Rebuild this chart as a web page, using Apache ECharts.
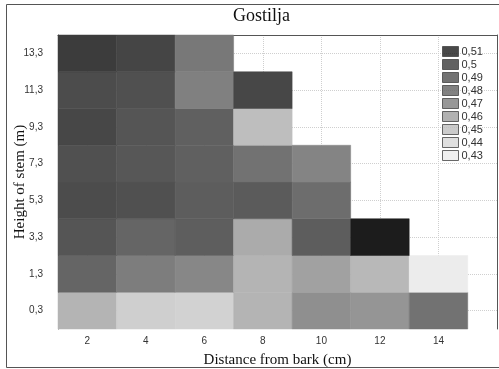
<!DOCTYPE html>
<html>
<head>
<meta charset="utf-8">
<script src="https://cdn.jsdelivr.net/npm/echarts@6/dist/echarts.min.js"></script>
<style>
    html, body { margin: 0; padding: 0; background: #fff; }
    #chart { width: 499px; height: 369px; }
</style>
</head>
<body>
<div id="chart"></div>
<script>
// distance from bark (cm), x positions of the columns
const distances = [2, 4, 6, 8, 10, 12, 14];
// height of stem (m), bottom to top
const heights = ['0,3', '1,3', '3,3', '5,3', '7,3', '9,3', '11,3', '13,3'];

// one row per height, one value per distance (null = no measurement)
const row03 = [0.453, 0.443, 0.442, 0.453, 0.4645, 0.4627, 0.474];
const row13 = [0.479, 0.470, 0.467, 0.453, 0.459, 0.452, 0.430];
const row33 = [0.487, 0.479, 0.482, 0.456, 0.483, 0.512, null];
const row53 = [0.492, 0.490, 0.483, 0.484, 0.476, null, null];
const row73 = [0.490, 0.486, 0.481, 0.474, 0.468, null, null];
const row93 = [0.494, 0.487, 0.481, 0.450, null, null, null];
const row113 = [0.492, 0.490, 0.469, 0.494, null, null, null];
const row133 = [0.499, 0.495, 0.472, null, null, null, null];
const rows = [row03, row13, row33, row53, row73, row93, row113, row133];

// legend levels and their grey shades (low to high)
const levels = [0.43, 0.44, 0.45, 0.46, 0.47, 0.48, 0.49, 0.5, 0.51];
const shades = ['#ececec', '#d7d7d7', '#bebebe', '#9e9e9e', '#7d7d7d', '#626262', '#505050', '#3a3a3a', '#1c1c1c'];

const topTicks = ['', '', '', '', '', '', '', '', '', ''];

const serif = '"Liberation Serif", "DejaVu Serif", serif';
const sans = '"Liberation Sans", Arial, sans-serif';

let cells = [];
rows.forEach((row, i) => {
    row.forEach((v, j) => {
        if (v !== null) cells.push([distances[j], i, v]);
    });
});

const fmt = (v) => String(v).replace('.', ',');

// dummy series only to feed the legend
let legendSeries = levels
    .map((lv, k) => ({
        name: fmt(lv),
        type: 'scatter',
        data: [],
        itemStyle: { color: shades[k], borderColor: '#444', borderWidth: 1 },
    }))
    .reverse();

let chart = echarts.init(document.getElementById('chart'));
let option = {
    animation: false,
    backgroundColor: '#fff',
    title: {
        text: 'Gostilja',
        left: 228,
        top: 2,
        textStyle: { fontFamily: serif, fontSize: 18, fontWeight: 'normal', color: '#111' },
    },
    grid: { left: 58, right: 2, top: 35, bottom: 40, outerBoundsMode: 'none', containLabel: false },
    legend: {
        orient: 'vertical',
        left: 442,
        top: 46,
        padding: 0,
        icon: 'rect',
        itemWidth: 16,
        itemHeight: 10,
        itemGap: 2,
        data: legendSeries.map((s) => s.name),
        textStyle: { fontFamily: sans, fontSize: 11, lineHeight: 10, color: '#333', padding: [0, 0, 0, -2] },
        itemStyle: { borderColor: '#444', borderWidth: 1 },
    },
    visualMap: {
        type: 'continuous',
        show: false,
        seriesIndex: 0,
        dimension: 2,
        min: 0.43,
        max: 0.51,
        inRange: { color: shades },
    },
    xAxis: [
        {
            type: 'value',
            min: 1,
            max: 16,
            interval: 1,
            name: 'Distance from bark (cm)',
            nameLocation: 'middle',
            nameGap: 24,
            nameTextStyle: { fontFamily: serif, fontSize: 15, color: '#111' },
            axisLine: { lineStyle: { color: '#555' } },
            axisTick: { inside: true, length: 3, customValues: distances, lineStyle: { color: '#333' } },
            axisLabel: {
                fontFamily: sans,
                fontSize: 10,
                color: '#333',
                margin: 7,
                customValues: distances,
                formatter: (v) => (v % 2 === 0 && v < 16 ? String(v) : ''),
            },
            splitLine: { show: true, lineStyle: { color: '#cfcfcf', type: 'dotted' } },
        },
        {
            type: 'category',
            position: 'top',
            data: topTicks,
            axisLine: { lineStyle: { color: '#555' } },
            axisTick: { inside: true, length: 3, alignWithLabel: true, lineStyle: { color: '#333' } },
            axisLabel: { show: false },
            splitLine: { show: false },
        },
    ],
    yAxis: [
        {
            type: 'category',
            data: heights,
            name: 'Height of stem (m)',
            nameLocation: 'middle',
            nameGap: 30,
            nameMoveOverlap: false,
            nameTextStyle: { fontFamily: serif, fontSize: 15, color: '#111' },
            axisLine: { lineStyle: { color: '#555' } },
            axisTick: { inside: true, length: 3, alignWithLabel: true, lineStyle: { color: '#333' } },
            axisLabel: { fontFamily: sans, fontSize: 10, color: '#333', margin: 15 },
            splitLine: { show: true, alignWithLabel: true, lineStyle: { color: '#cfcfcf', type: 'dotted' } },
        },
        {
            type: 'category',
            data: heights,
            position: 'right',
            axisLine: { lineStyle: { color: '#555' } },
            axisTick: { inside: true, length: 3, alignWithLabel: true, lineStyle: { color: '#333' } },
            axisLabel: { show: false },
            splitLine: { show: false },
        },
    ],
    graphic: [
        {
            type: 'rect',
            shape: { x: 6.5, y: 4.5, width: 500, height: 363 },
            style: { fill: null, stroke: '#555', lineWidth: 1 },
            silent: true,
        },
    ],
    series: [
        {
            type: 'custom',
            xAxisIndex: 0,
            yAxisIndex: 0,
            data: cells,
            renderItem: (params, api) => {
                const p = api.coord([api.value(0), api.value(1)]);
                const s = api.size([2, 1]);
                const c = api.visual('color');
                return {
                    type: 'rect',
                    shape: { x: p[0] - s[0] / 2, y: p[1] - s[1] / 2, width: s[0], height: s[1] },
                    style: { fill: c, stroke: c, lineWidth: 0.5 },
                };
            },
        },
    ].concat(legendSeries),
};
chart.setOption(option);
</script>
</body>
</html>
